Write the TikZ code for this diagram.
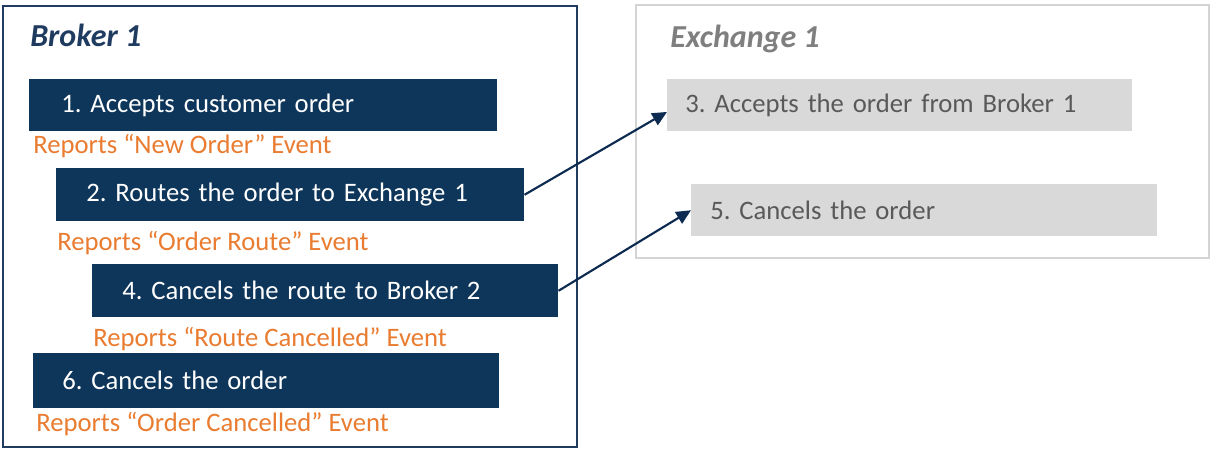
\documentclass[tikz,border=0pt]{standalone}
\usepackage{fontspec}
\setmainfont{Carlito}
\usetikzlibrary{arrows.meta}
\definecolor{navy}{HTML}{0E365A}
\definecolor{navyline}{HTML}{1F3B5F}
\definecolor{arrownavy}{HTML}{0D2A50}
\definecolor{orangetxt}{HTML}{E97C30}
\definecolor{lightbox}{HTML}{D9D9D9}
\definecolor{graytxt}{HTML}{595959}
\definecolor{titlegray}{HTML}{7F7F7F}
\definecolor{exborder}{HTML}{D4D4D4}
\tikzset{
  basefont/.style={font=\fontsize{20}{24}\selectfont\frenchspacing},
  navybox/.style={basefont, fill=navy, text=white, anchor=north west, align=left, inner ysep=0pt},
  graybox/.style={basefont, fill=lightbox, text=graytxt, anchor=north west, align=left, inner ysep=0pt},
  report/.style={basefont, text=orangetxt, anchor=base west, inner sep=0pt},
  title/.style={font=\fontsize{24}{28}\selectfont\bfseries\itshape, anchor=base west, inner sep=0pt},
  conn/.style={draw=arrownavy, line width=1.6pt, -{Triangle[length=11pt,width=10pt]}}
}
\begin{document}
\begin{tikzpicture}[x=0.75pt,y=-0.75pt]
\useasboundingbox[fill=white] (0,0) rectangle (1211,450);
% containers
\draw[navyline, line width=1.9pt] (3,6) rectangle (577,447);
\draw[exborder, line width=1.5pt] (636,5) rectangle (1209,258);
\node[title, text=navyline] (t1) at (30,46) {Broker 1};
\node[title, text=titlegray] (t2) at (670,47) {Exchange 1};
% broker steps
\node[navybox, minimum height=39pt, inner xsep=24pt, text width=303pt] (b1) at (29,79) {1. Accepts customer order};
\node[report] (r1) at (33,153) {Reports “New Order” Event};
\node[navybox, minimum height=39.75pt, inner xsep=22.5pt, text width=306pt] (b2) at (56,168) {2. Routes the order to Exchange 1};
\node[report] (r2) at (57,250) {Reports “Order Route” Event};
\node[navybox, minimum height=39.75pt, inner xsep=22.5pt, text width=304.5pt] (b4) at (92,264) {4. Cancels the route to Broker 2};
\node[report] (r4) at (93,346) {Reports “Route Cancelled” Event};
\node[navybox, minimum height=41.25pt, inner xsep=21.75pt, text width=306pt] (b6) at (33,353) {6. Cancels the order};
\node[report] (r6) at (36,431) {Reports “Order Cancelled” Event};
% exchange steps
\node[graybox, minimum height=39pt, inner xsep=13.5pt, text width=321.75pt] (b3) at (667,79) {3. Accepts the order from Broker 1};
\node[graybox, minimum height=39pt, inner xsep=14.25pt, text width=321pt] (b5) at (691,184) {5. Cancels the order};
% connectors
\draw[conn] (b2.east) -- ([yshift=-5pt]b3.west);
\draw[conn] (b4.east) -- (b5.west);
\end{tikzpicture}
\end{document}
